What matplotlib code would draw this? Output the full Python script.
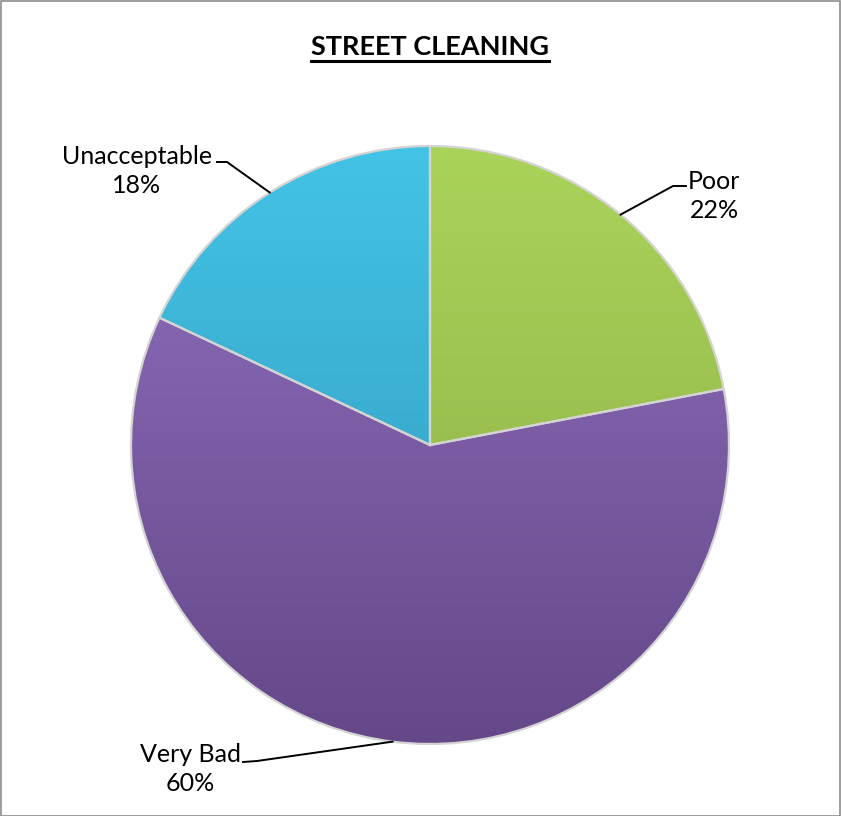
import numpy as np
import matplotlib.pyplot as plt
from matplotlib.patches import Rectangle
from matplotlib.colors import LinearSegmentedColormap

plt.rcParams['font.family'] = ['Lato', 'DejaVu Sans']

# chart data
categories = ['Poor', 'Very Bad', 'Unacceptable']
shares = [22, 60, 18]
# (top colour, bottom colour) for each slice
slice_colors = [('#aad35b', '#8cab42'), ('#9070c0', '#654888'), ('#43c3e5', '#3196b8')]
title = 'STREET CLEANING'

# label placement in pixels of the 841x816 picture (text centre, elbow, end)
label_pos = {
    'Poor': ((714, 196), [(686, 186), (673, 186)]),
    'Unacceptable': ((137, 171), [(217, 162), (227, 162)]),
    'Very Bad': ((190, 769), [(243, 762), (257, 761)]),
}

W, H = 841, 816
cx, cy, R = 430, 445, 299

fig = plt.figure(figsize=(W / 100, H / 100), dpi=100)
ax = fig.add_axes([(cx - R) / W, (H - cy - R) / H, 2 * R / W, 2 * R / H])


def px(p):
    return ((p[0] - cx) / R, (cy - p[1]) / R)


wedges, _ = ax.pie(shares, startangle=90, counterclock=False, radius=1,
                   colors=[c[0] for c in slice_colors],
                   wedgeprops=dict(edgecolor='#d4d4d4', linewidth=1.6))
ax.set_aspect('equal')
ax.axis('off')

# vertical shading inside each slice
grad = np.linspace(0, 1, 256).reshape(-1, 1)
for w, (top, bot) in zip(wedges, slice_colors):
    cmap = LinearSegmentedColormap.from_list('g', [top, bot])
    im = ax.imshow(grad, cmap=cmap, extent=(-1, 1, -1, 1), origin='upper',
                   aspect='auto', zorder=w.get_zorder() + 0.1)
    im.set_clip_path(w)
    w.set_zorder(w.get_zorder() + 0.2)
    w.set_facecolor('none')
ax.set_xlim(-1, 1)
ax.set_ylim(-1, 1)

for w, name, val in zip(wedges, categories, shares):
    mid = np.deg2rad((w.theta1 + w.theta2) / 2)
    anchor = (np.cos(mid), np.sin(mid))
    (tx, ty), pts = label_pos[name]
    line = [px(p) for p in pts] + [anchor]
    ax.plot([p[0] for p in line], [p[1] for p in line], color='black', lw=1.4,
            clip_on=False, zorder=5)
    ax.text(*px((tx, ty)), f'{name}\n{val}%', ha='center', va='center',
            fontsize=18, linespacing=1.35, clip_on=False, zorder=6)

t = fig.text(430 / W, 1 - 47 / H, title, ha='center', va='center',
             fontsize=19.5, fontweight='bold')
fig.canvas.draw()
bb = t.get_window_extent().transformed(fig.transFigure.inverted())
fig.add_artist(plt.Line2D([bb.x0, bb.x1], [1 - 61 / H] * 2, color='black', lw=2.2,
                          transform=fig.transFigure))

fig.add_artist(Rectangle((0.5 / W, 0.5 / H), 1 - 1.5 / W, 1 - 1.5 / H, fill=False,
                         edgecolor='#8c8c8c', lw=1.2, transform=fig.transFigure))

fig.savefig('out.png', dpi=100)
